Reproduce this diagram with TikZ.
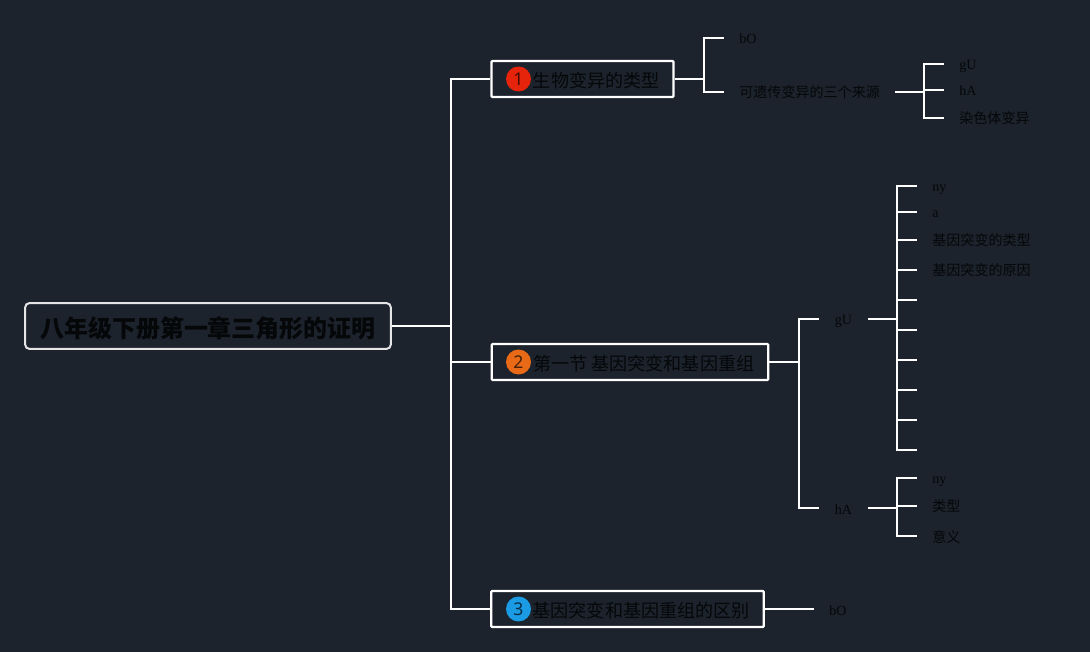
\documentclass[tikz,border=0pt]{standalone}
\usepackage{fontspec}
\setmainfont{Noto Sans CJK SC}
\newfontfamily\latinfont{Liberation Serif}
\newfontfamily\digitfont{Noto Sans}
\usetikzlibrary{positioning, calc}
\definecolor{pagebg}{HTML}{1C232C}
\definecolor{inkcol}{HTML}{050709}
\definecolor{dotred}{HTML}{E6230B}
\definecolor{dotorange}{HTML}{E86A17}
\definecolor{dotblue}{HTML}{1A9BE3}
\tikzset{
    link/.style={draw=white, line width=0.045cm},
    rootbox/.style={draw=white!90!black, line width=0.04cm, rounded corners=0.09cm, inner xsep=0.3cm, inner ysep=0pt, minimum height=0.92cm, text height=0.46cm, text depth=0pt, text=inkcol, font=\fontsize{13.65pt}{16pt}\selectfont\bfseries},
    branchbox/.style={draw=white, line width=0.045cm, rounded corners=0.02cm, inner xsep=0.28cm, inner ysep=0pt, minimum height=0.72cm, text height=0.33cm, text depth=0pt, text=inkcol, font=\fontsize{10.3pt}{12pt}\selectfont},
    numdot/.style={circle, inner sep=0pt, minimum size=0.5cm, text=black, text opacity=0.7, font=\digitfont\fontsize{10pt}{12pt}\selectfont},
    leaf/.style={anchor=west, inner xsep=0.3cm, inner ysep=0pt, text height=0.24cm, text depth=0pt, text=inkcol, font=\fontsize{8pt}{10pt}\selectfont},
    latinleaf/.style={leaf, text height=0.24cm, font=\latinfont\fontsize{8pt}{10pt}\selectfont},
    midleaf/.style={latinleaf, inner xsep=0pt, minimum width=0.96cm}
}
\newcommand{\dotgap}{\hspace{0.55cm}}
\begin{document}
\begin{tikzpicture}[x=0.02cm,y=-0.02cm]
    \path[use as bounding box, fill=pagebg] (0,0) rectangle (1090,652);

    \node[rootbox] (root) at (208,326) {八年级下册第一章三角形的证明};
    \node[branchbox] (bra) at (582.5,79) {\dotgap 生物变异的类型};
    \node[branchbox] (brb) at (630,362) {\dotgap 第一节 基因突变和基因重组};
    \node[branchbox] (brc) at (627.5,609) {\dotgap 基因突变和基因重组的区别};
    \node[numdot, fill=dotred] (numa) at (518.5,79) {1};
    \node[numdot, fill=dotorange] (numb) at (518.5,362) {2};
    \node[numdot, fill=dotblue] (numc) at (518.5,609) {3};

    \node[latinleaf] (boa) at (724,38) {bO};
    \node[leaf] (src) at (724,92) {可遗传变异的三个来源};
    \node[latinleaf] (srcg) at (944,64) {gU};
    \node[latinleaf] (srch) at (944,90) {hA};
    \node[leaf] (srcc) at (944,118) {染色体变异};

    \node[midleaf] (gu) at (819,319) {gU};
    \node[latinleaf] (guny) at (917,186) {ny};
    \node[latinleaf] (gua) at (917,212) {a};
    \node[leaf] (gutype) at (917,240) {基因突变的类型};
    \node[leaf] (gucause) at (917,270) {基因突变的原因};

    \node[midleaf] (ha) at (819,508) {hA};
    \node[latinleaf] (hany) at (917,478) {ny};
    \node[leaf] (hatype) at (917,506) {类型};
    \node[leaf] (hamean) at (917,536) {意义};

    \node[latinleaf] (boc) at (814,609) {bO};

    \coordinate (trunk) at (451,326);
    \coordinate (spa) at (704,79);
    \coordinate (spsrc) at (924,92);
    \coordinate (spb) at (799,362);
    \coordinate (spgu) at (897,319);
    \coordinate (spha) at (897,508);

    \draw[link] (root.east) -- (trunk);
    \draw[link] (trunk) |- (bra.west);
    \draw[link] (trunk) |- (brb.west);
    \draw[link] (trunk) |- (brc.west);

    \draw[link] (bra.east) -- (spa);
    \draw[link] (spa) |- (boa.west);
    \draw[link] (spa) |- (src.west);
    \draw[link] (src.east) -- (spsrc);
    \draw[link] (spsrc) |- (srcg.west);
    \draw[link] (spsrc) |- (srch.west);
    \draw[link] (spsrc) |- (srcc.west);

    \draw[link] (brb.east) -- (spb);
    \draw[link] (spb) |- (gu.west);
    \draw[link] (spb) |- (ha.west);
    \draw[link] (gu.east) -- (spgu);
    \draw[link] (ha.east) -- (spha);
    \draw[link] (spgu) |- (guny.west);
    \draw[link] (spgu) |- (gua.west);
    \draw[link] (spgu) |- (gutype.west);
    \draw[link] (spgu) |- (gucause.west);
    \foreach \i/\y in {e/300,f/330,g/360,h/390,i/420,j/450} {
        \coordinate (gu\i) at (917,\y);
        \draw[link] (spgu) |- (gu\i);
    }
    \draw[link] (spha) |- (hany.west);
    \draw[link] (spha) |- (hatype.west);
    \draw[link] (spha) |- (hamean.west);

    \draw[link] (brc.east) -- (boc.west);
\end{tikzpicture}
\end{document}
